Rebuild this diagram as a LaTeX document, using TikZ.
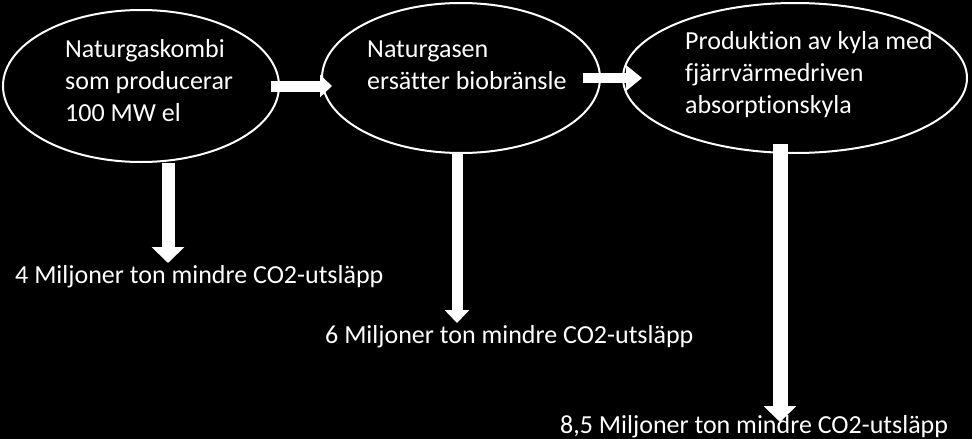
\documentclass[tikz,border=0pt]{standalone}
\usepackage{fontspec}
\setmainfont{Carlito}[Ligatures=CommonOff]
\usepackage{tikz}
\usetikzlibrary{shapes.geometric,arrows.meta}
\tikzset{
  bubble/.style = { draw=white, line width=2pt, ellipse, inner sep=0pt },
  flow/.style   = { white, line width=11pt, -{Triangle[length=12pt,width=22pt]} },
  drop/.style   = { white, line width=13pt, -{Triangle[length=16pt,width=32pt]} },
  txt/.style    = { text=white, inner sep=0pt, anchor=base west, align=left,
                    font=\fontsize{26}{32}\selectfont }
}

\begin{document}
\begin{tikzpicture}[x=1pt,y=-1pt]
  % background
  \fill[black] (0,0) rectangle (972,439);
  % Draw the three steps
  \node[bubble, minimum width=276pt, minimum height=152pt] (kombi) at (141,86) {};
  \node[bubble, minimum width=278pt, minimum height=150pt] (gasen) at (461,78) {};
  \node[bubble, minimum width=344pt, minimum height=150pt] (kylan) at (795,78) {};
  \node[txt] (kombitext) at (65,121)  {Naturgaskombi\\som producerar\\100 MW el};
  \node[txt] (gasentext) at (367,89) {Naturgasen\\ersätter biobränsle};
  \node[txt] (kylantext) at (685,113) {Produktion av kyla med\\fjärrvärmedriven\\absorptionskyla};
  % Draw arrows between steps
  \draw[flow, shorten <=-9pt, shorten >=-11pt] (kombi.east) -- (kombi.east -| gasen.west);
  \draw[flow, line width=10pt, -{Triangle[length=16pt,width=25pt]}, shorten <=-18pt, shorten >=-20pt]
    (gasen.east) -- (kylan.west);
  % Draw savings
  \node[txt] (minsk1) at (15,283)  {4 Miljoner ton mindre CO2-utsläpp};
  \node[txt] (minsk2) at (325,343) {6 Miljoner ton mindre CO2-utsläpp};
  \node[txt] (minsk3) at (560,433) {8,5 Miljoner ton mindre CO2-utsläpp};
  \coordinate (spets1) at (168,263);
  \coordinate (spets2) at (457,323);
  \coordinate (spets3) at (780,422);
  \draw[drop] (kombi.south -| spets1) -- (spets1);
  \draw[drop, line width=11pt, -{Triangle[length=13pt,width=24pt]}] (gasen.south -| spets2) -- (spets2);
  \draw[drop, line width=15pt, shorten <=-10pt] (kylan.south -| spets3) -- (spets3);
\end{tikzpicture}
\end{document}
